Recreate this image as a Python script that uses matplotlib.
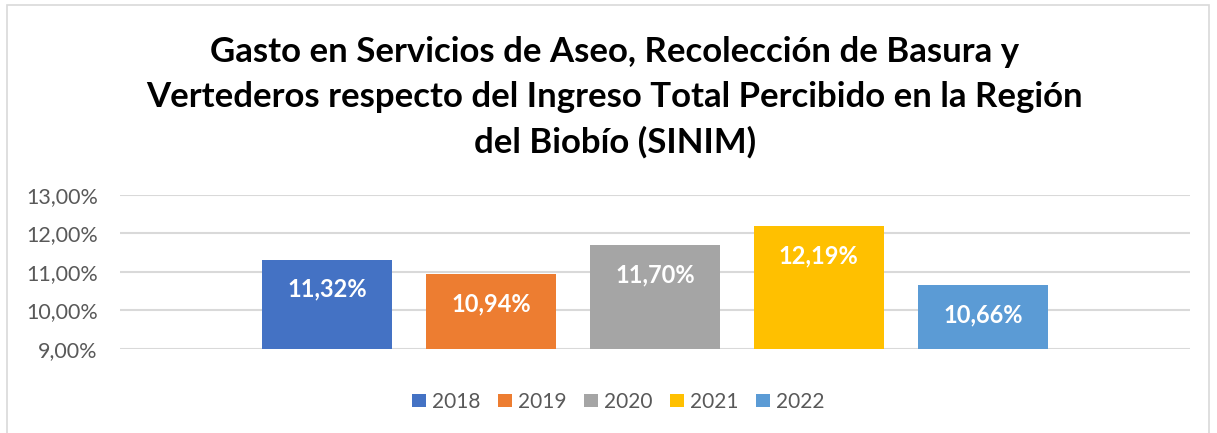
import matplotlib.pyplot as plt
from matplotlib.patches import Rectangle
from matplotlib.ticker import FuncFormatter

# datos del grafico
anios = ["2018", "2019", "2020", "2021", "2022"]
valores = [11.32, 10.94, 11.70, 12.19, 10.66]
colores = ["#4472C4", "#ED7D31", "#A5A5A5", "#FFC000", "#5B9BD5"]

titulo = ("Gasto en Servicios de Aseo, Recolección de Basura y\n"
          "Vertederos respecto del Ingreso Total Percibido en la Región\n"
          "del Biobío (SINIM)")

plt.rcParams['font.family'] = ['Lato', 'DejaVu Sans']

fig = plt.figure(figsize=(12.17, 4.33), dpi=100)
ax = fig.add_axes([0.0986, 0.194, 0.879, 0.356])

# borde del area del grafico
fig.patches.append(Rectangle((7 / 1217, -0.05), 1202 / 1217, 1 - 5 / 433 + 0.05,
                             transform=fig.transFigure, fill=False,
                             edgecolor="#D9D9D9", linewidth=1.2))

paso = 164 / 1070
ancho = 130 / 1070
for i, (a, v, c) in enumerate(zip(anios, valores, colores)):
    x = (i - 2) * paso
    ax.bar(x, v - 9, bottom=9, width=ancho, color=c, label=a, zorder=3)
    ax.text(x, v - 0.77, f"{v:.2f}%".replace(".", ","), ha="center", va="center",
            color="white", fontsize=17, fontweight="bold", zorder=4)

ax.set_xlim(-0.5, 0.5)
ax.set_ylim(9, 13)
ax.set_yticks([9, 10, 11, 12, 13])
ax.yaxis.set_major_formatter(FuncFormatter(lambda y, p: f"{y:.2f}%".replace(".", ",")))
ax.tick_params(axis="y", length=0, labelsize=15.5, labelcolor="#595959", pad=16)
ax.set_xticks([])
ax.grid(axis="y", color="#D9D9D9", linewidth=1.5, zorder=0)
for s in ax.spines.values():
    s.set_visible(False)

fig.text(0.505, 0.918, titulo, ha="center", va="top", fontsize=25,
         fontweight="bold", color="black", linespacing=1.5)

leg = fig.legend(loc="center", bbox_to_anchor=(0.508, 0.072), ncol=5, frameon=False,
                 fontsize=15, handlelength=0.65, handleheight=0.65, handletextpad=0.3,
                 columnspacing=0.85)
for t in leg.get_texts():
    t.set_color("#595959")

fig.savefig("out.png", dpi=100)
